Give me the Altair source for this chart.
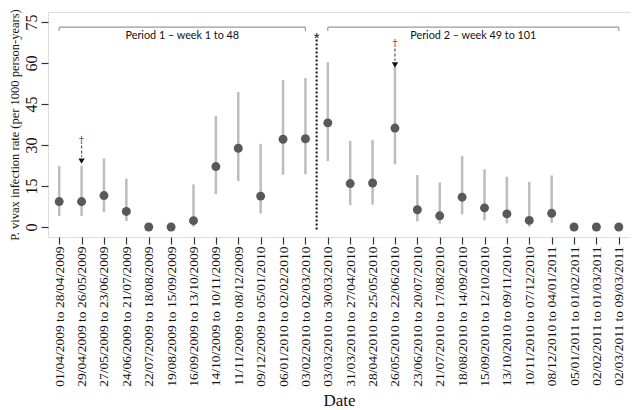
import altair as alt
import pandas as pd

labels = [
    "01/04/2009 to 28/04/2009", "29/04/2009 to 26/05/2009", "27/05/2009 to 23/06/2009",
    "24/06/2009 to 21/07/2009", "22/07/2009 to 18/08/2009", "19/08/2009 to 15/09/2009",
    "16/09/2009 to 13/10/2009", "14/10/2009 to 10/11/2009", "11/11/2009 to 08/12/2009",
    "09/12/2009 to 05/01/2010", "06/01/2010 to 02/02/2010", "03/02/2010 to 02/03/2010",
    "03/03/2010 to 30/03/2010", "31/03/2010 to 27/04/2010", "28/04/2010 to 25/05/2010",
    "26/05/2010 to 22/06/2010", "23/06/2010 to 20/07/2010", "21/07/2010 to 17/08/2010",
    "18/08/2010 to 14/09/2010", "15/09/2010 to 12/10/2010", "13/10/2010 to 09/11/2010",
    "10/11/2010 to 07/12/2010", "08/12/2010 to 04/01/2011", "05/01/2011 to 01/02/2011",
    "02/02/2011 to 01/03/2011", "02/03/2011 to 09/03/2011",
]
rate = [9.3, 9.3, 11.5, 5.7, 0, 0, 2.3, 22.1, 28.8, 11.3, 32.1, 32.3,
        38.1, 15.9, 16.1, 36.2, 6.3, 4.1, 10.9, 7.0, 4.8, 2.4, 5.0, 0, 0, 0]
lower = [4.0, 4.0, 5.4, 2.2, None, None, 0.1, 12.0, 16.8, 4.9, 19.1, 19.3,
         24.1, 8.0, 8.2, 22.9, 2.1, 1.2, 4.6, 2.4, 1.3, 0.1, 1.5, None, None, None]
upper = [22.3, 22.4, 25.1, 17.6, None, None, 15.6, 40.7, 49.4, 30.4, 53.8, 54.5,
         60.3, 31.5, 31.9, 58.7, 19.0, 16.3, 25.9, 21.1, 18.4, 16.5, 18.9, None, None, None]

period_start = [1, 13]
period_end = [12, 26]
period_text = ["Period 1 \u2013 week 1 to 48", "Period 2 \u2013 week 49 to 101"]

dagger_idx = [2, 16]
dagger_top = [31.8, 67.3]
arrow_tip = [24.1, 59.3]

idx = list(range(1, len(labels) + 1))
df = pd.DataFrame({"idx": idx, "rate": rate, "lower": lower, "upper": upper})
bars = df.dropna()

periods = pd.DataFrame({"idx": [(a + b) / 2 for a, b in zip(period_start, period_end)],
                        "s": period_start, "e": period_end, "t": period_text})
ends = pd.DataFrame({"idx": period_start + period_end})
daggers = pd.DataFrame({"idx": dagger_idx, "rate": dagger_top, "tip": arrow_tip,
                        "dash_top": [t - 2.0 for t in dagger_top],
                        "dash_bot": [t + 1.5 for t in arrow_tip]})
sep_df = pd.DataFrame({"idx": [12.5]})

label_js = "[" + ",".join("'" + l + "'" for l in labels) + "][datum.value-1]"

SERIF = "Liberation Serif"
W, H = 582, 225
XT = "Date"
YT = "P. vivax infection rate (per 1000 person-years)"
xscale = alt.Scale(domain=[0.5, 26.5], nice=False, zero=False)
yscale = alt.Scale(domain=[-3.66, 78.66], nice=False, zero=False)

ax_x = alt.Axis(values=idx, labelExpr=label_js, labelAngle=-90,
                labelAlign="right", labelBaseline="middle",
                labelFont=SERIF, labelFontSize=13.5, labelColor="#111",
                labelPadding=2, tickSize=7, tickColor="#333", tickWidth=1.2,
                domain=False, grid=False, labelOverlap=False,
                titleFont=SERIF, titleFontSize=17, titleFontWeight="normal",
                titleColor="#111", titleBaseline="alphabetic",
                titleX=W / 2, titleY=168)
ax_y = alt.Axis(values=[0, 15, 30, 45, 60, 75], labelAngle=-90,
                labelAlign="center", labelBaseline="bottom",
                labelFont=SERIF, labelFontSize=16, labelColor="#111",
                labelPadding=2, tickSize=7, tickColor="#333", tickWidth=1.2,
                domain=False, grid=False,
                titleFont=SERIF, titleFontSize=12.5, titleFontWeight="normal",
                titleColor="#111", titleAngle=-90, titleAlign="center",
                titleBaseline="middle", titleX=-34, titleY=H / 2)


def X(f):
    return alt.X(f, scale=xscale, axis=ax_x, title=XT)


def Y(f):
    return alt.Y(f, scale=yscale, axis=ax_y, title=YT)


err = alt.Chart(bars).mark_rule(color="#bdbdbd", strokeWidth=2.5).encode(
    x=X("idx:Q"), y=Y("lower:Q"), y2="upper:Q")
pts = alt.Chart(df).mark_circle(color="#595959", opacity=1, size=80).encode(
    x=X("idx:Q"), y=Y("rate:Q"))

BR_Y = 73.1
BR_T = 71.7
br = alt.Chart(periods).mark_rule(color="#9a9a9a", strokeWidth=1.2).encode(
    x=X("s:Q"), x2="e:Q", y=alt.datum(BR_Y))
br_ends = alt.Chart(ends).mark_rule(color="#9a9a9a", strokeWidth=1.2).encode(
    x=X("idx:Q"), y=alt.datum(BR_Y), y2=alt.datum(BR_T))
br_txt = alt.Chart(periods).mark_text(font="Lato", fontSize=10.8, color="#111",
                                      baseline="middle").encode(
    x=X("idx:Q"), y=alt.datum(69.9), text="t:N")

sep = alt.Chart(sep_df).mark_rule(
    color="#111", strokeWidth=2, strokeDash=[2, 2]).encode(
    x=X("idx:Q"), y=alt.datum(68.6), y2=alt.datum(-1.2))
star = alt.Chart(sep_df).mark_text(
    text="*", font="Liberation Sans", fontSize=15, color="#111", baseline="middle").encode(
    x=X("idx:Q"), y=alt.datum(69.0))

dag = alt.Chart(daggers).mark_text(text="\u2020", font="DejaVu Serif", fontSize=10,
                                   color="#333", baseline="middle").encode(
    x=X("idx:Q"), y=Y("rate:Q"))
dash = alt.Chart(daggers).mark_rule(color="#555", strokeWidth=1.2, strokeDash=[3, 2]).encode(
    x=X("idx:Q"), y=Y("dash_top:Q"), y2="dash_bot:Q")
tri = alt.Chart(daggers).mark_point(shape="triangle-down", filled=True, color="#111",
                                    size=40, opacity=1).encode(
    x=X("idx:Q"), y=Y("tip:Q"))

chart = alt.layer(err, pts, br, br_ends, br_txt, sep, star, dash, dag, tri).properties(
    width=W, height=H,
    autosize=alt.AutoSizeParams(type="none"),
    padding={"left": 40, "top": 4, "right": 0, "bottom": 173},
).configure_view(stroke="#404040", strokeWidth=1.5).configure(background="white")

chart.save("out.html", embed_options={"renderer": "svg", "actions": False})
